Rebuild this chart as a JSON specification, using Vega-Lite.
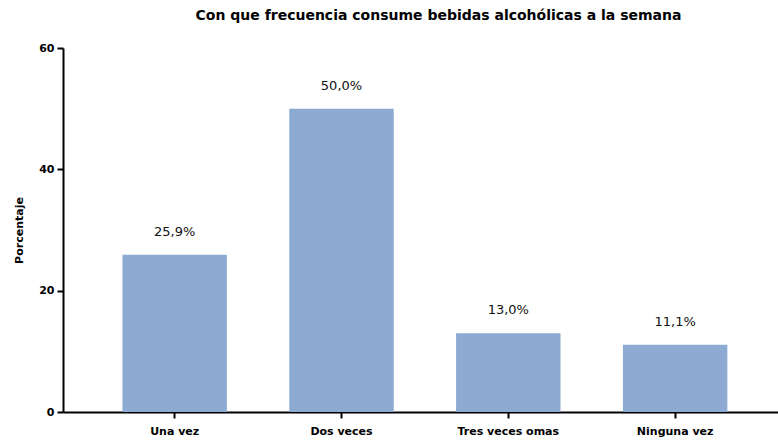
{
  "$schema": "https://vega.github.io/schema/vega-lite/v6.json",
  "autosize": "none",
  "width": 715,
  "height": 364,
  "padding": {"left": 63, "top": 48, "right": 0, "bottom": 28},
  "background": "white",
  "title": {
    "text": "Con que frecuencia consume bebidas alcohólicas a la semana",
    "anchor": "middle",
    "dx": 18,
    "offset": 19,
    "font": "DejaVu Sans",
    "fontSize": 14,
    "fontWeight": "bold",
    "color": "#000000"
  },
  "data": {
    "values": [
      {"categoria": "Una vez", "porcentaje": 25.9, "etiqueta": "25,9%"},
      {"categoria": "Dos veces", "porcentaje": 50.0, "etiqueta": "50,0%"},
      {"categoria": "Tres veces omas", "porcentaje": 13.0, "etiqueta": "13,0%"},
      {"categoria": "Ninguna vez", "porcentaje": 11.1, "etiqueta": "11,1%"}
    ]
  },
  "config": {"view": {"stroke": null}},
  "encoding": {
    "x": {
      "field": "categoria",
      "type": "nominal",
      "sort": null,
      "scale": {"paddingInner": 0.374, "paddingOuter": 0.33, "align": 0.54},
      "axis": {
        "title": null,
        "labelAngle": 0,
        "labelFont": "DejaVu Sans",
        "labelFontSize": 11,
        "labelFontWeight": "bold",
        "labelColor": "#000000",
        "labelPadding": 7,
        "domainColor": "#000000",
        "domainWidth": 2,
        "tickColor": "#000000",
        "tickWidth": 2,
        "tickSize": 6
      }
    },
    "y": {
      "field": "porcentaje",
      "type": "quantitative",
      "scale": {"domain": [0, 60], "nice": false},
      "axis": {
        "title": "Porcentaje",
        "values": [0, 20, 40, 60],
        "grid": false,
        "labelFont": "DejaVu Sans",
        "labelFontSize": 11,
        "labelFontWeight": "bold",
        "labelColor": "#000000",
        "labelPadding": 3,
        "titleFont": "DejaVu Sans",
        "titleFontSize": 11,
        "titleFontWeight": "bold",
        "titleColor": "#000000",
        "titlePadding": 14,
        "domainColor": "#000000",
        "domainWidth": 2,
        "tickColor": "#000000",
        "tickWidth": 2,
        "tickSize": 6
      }
    }
  },
  "layer": [
    {"mark": {"type": "bar", "color": "#8DAAD3"}},
    {
      "mark": {"type": "text", "baseline": "bottom", "dy": -16, "font": "DejaVu Sans", "fontSize": 13, "color": "#111111"},
      "encoding": {"text": {"field": "etiqueta"}}
    }
  ]
}
